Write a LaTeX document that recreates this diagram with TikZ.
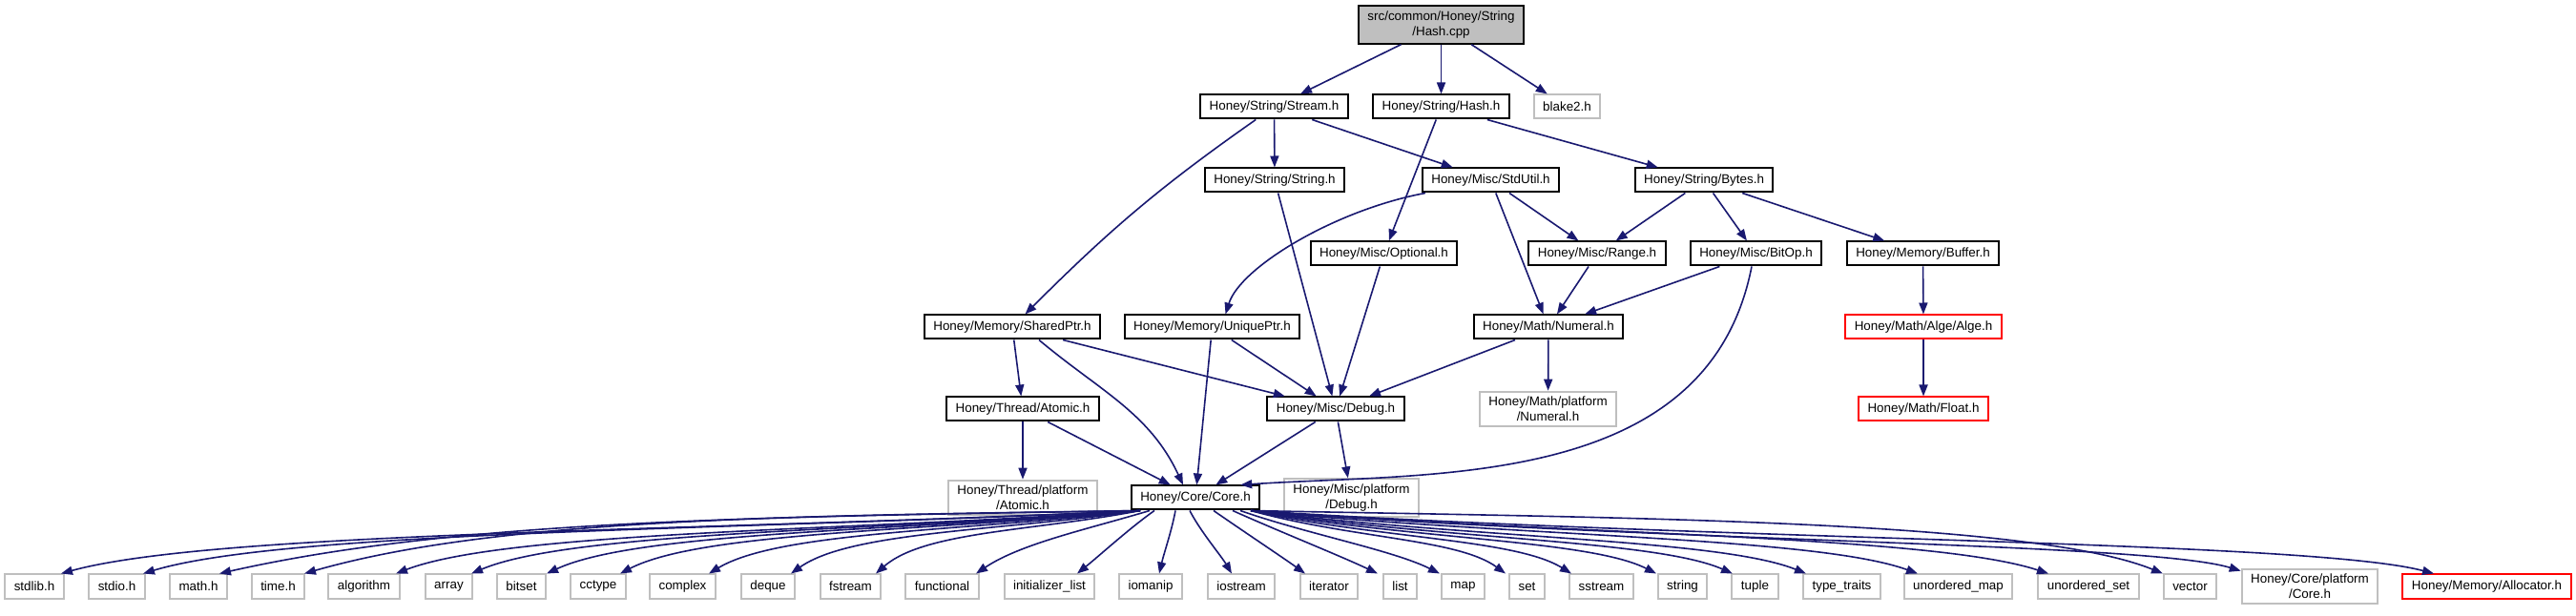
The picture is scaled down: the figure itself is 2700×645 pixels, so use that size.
\documentclass[tikz,border=0pt]{standalone}
\usepackage{fontspec}
\setmainfont{Liberation Sans}
\usetikzlibrary{arrows.meta,positioning}
\definecolor{edgeblue}{RGB}{25,25,112}
\definecolor{sysgray}{RGB}{191,191,191}
\definecolor{rootgray}{RGB}{191,191,191}
\definecolor{warnred}{RGB}{255,0,0}
\tikzset{
  inc/.style={rectangle,draw=black,line width=2pt,fill=white,text=black,align=center,
              inner xsep=9.5pt,inner ysep=5.5pt,minimum height=25pt,
              font=\fontsize{13.4}{15.8}\selectfont},
  sysinc/.style={inc,draw=sysgray},
  redinc/.style={inc,draw=warnred},
  rootinc/.style={inc,fill=rootgray},
  dep/.style={-{Triangle[length=12pt,width=9pt]},draw=edgeblue,line width=1.6pt},
}
\begin{document}
\begin{tikzpicture}[x=1pt,y=1pt]
  \useasboundingbox (0,0) rectangle (2700,645);
  % include rows, top to bottom
  \node[rootinc] (cpp) at (1510.5,619) {src/common/Honey/String\\/Hash.cpp};
  \node[inc] (stream) at (1335.5,533) {Honey/String/Stream.h};
  \node[inc] (hashh) at (1510.5,533) {Honey/String/Hash.h};
  \node[sysinc] (blake) at (1642.5,533) {blake2.h};
  \node[inc] (stringh) at (1336,456) {Honey/String/String.h};
  \node[inc] (stdutil) at (1562.5,456) {Honey/Misc/StdUtil.h};
  \node[inc] (bytes) at (1786,456) {Honey/String/Bytes.h};
  \node[inc] (optional) at (1450.5,379) {Honey/Misc/Optional.h};
  \node[inc] (range) at (1674,379) {Honey/Misc/Range.h};
  \node[inc] (bitop) at (1840.5,379) {Honey/Misc/BitOp.h};
  \node[inc] (buffer) at (2015.5,379) {Honey/Memory/Buffer.h};
  \node[inc] (sharedptr) at (1061,302) {Honey/Memory/SharedPtr.h};
  \node[inc] (uniqueptr) at (1270.5,302) {Honey/Memory/UniquePtr.h};
  \node[inc] (numeral) at (1623,302) {Honey/Math/Numeral.h};
  \node[redinc] (alge) at (2016,302) {Honey/Math/Alge/Alge.h};
  \node[inc] (atomic) at (1072,216) {Honey/Thread/Atomic.h};
  \node[inc] (debug) at (1400,216) {Honey/Misc/Debug.h};
  \node[sysinc] (numplat) at (1622.5,216) {Honey/Math/platform\\/Numeral.h};
  \node[redinc] (float) at (2016,216) {Honey/Math/Float.h};
  \node[sysinc] (atomplat) at (1072,123) {Honey/Thread/platform\\/Atomic.h};
  \node[inc] (core) at (1253,123) {Honey/Core/Core.h};
  \node[sysinc] (debugplat) at (1416.5,123) {Honey/Misc/platform\\/Debug.h};
  \foreach \n/\t/\x in {stdlib/stdlib.h/36, stdio/stdio.h/122.5, mathh/math.h/208,
      timeh/time.h/291.5, algorithm/algorithm/381.5, array/array/470.5, bitset/bitset/546.5,
      cctype/cctype/627, complex/complex/715.5, deque/deque/805, fstream/fstream/891.5,
      functional/functional/987.5, initlist/initializer\_list/1100, iomanip/iomanip/1206,
      iostream/iostream/1301, iterator/iterator/1393, list/list/1467.5, map/map/1533.5,
      set/set/1600.5, sstream/sstream/1678.5, string/string/1763.5, tuple/tuple/1839.5,
      typetraits/type\_traits/1930.5, umap/unordered\_map/2052.5, uset/unordered\_set/2189,
      vector/vector/2295.5}
    \node[sysinc] (\n) at (\x,30) {\t};
  \node[sysinc] (coreplat) at (2421,30) {Honey/Core/platform\\/Core.h};
  \node[redinc] (alloc) at (2606.5,30) {Honey/Memory/Allocator.h};

  \draw[dep] (cpp) -- (stream);
  \draw[dep] (cpp) -- (hashh);
  \draw[dep] (cpp) -- (blake);
  \draw[dep] (stream) to[out=-145,in=45] (sharedptr);
  \draw[dep] (stream) -- (stringh);
  \draw[dep] (stream) -- (stdutil);
  \draw[dep] (hashh) -- (optional);
  \draw[dep] (hashh) -- (bytes);
  \draw[dep] (stringh) -- (debug);
  \draw[dep] ([xshift=4pt]stdutil.south west) .. controls (1400,425) and (1300,365) .. ([xshift=14pt]uniqueptr.north);
  \draw[dep] (stdutil) -- (range);
  \draw[dep] (stdutil) -- (numeral);
  \draw[dep] (bytes) -- (range);
  \draw[dep] (bytes) -- (bitop);
  \draw[dep] (bytes) -- (buffer);
  \draw[dep] (optional) -- (debug);
  \draw[dep] (range) -- (numeral);
  \draw[dep] (bitop) -- (numeral);
  \draw[dep] ([xshift=-4.5pt]bitop.south) .. controls (1790,130) and (1500,150) .. ([xshift=-21pt]core.north east);
  \draw[dep] (buffer) -- (alge);
  \draw[dep] (alge) -- (float);
  \draw[dep] (sharedptr) -- (atomic);
  \draw[dep] ([xshift=28pt]sharedptr.south) to[out=-40,in=115] ([xshift=-13pt]core.north);
  \draw[dep] (sharedptr) -- (debug);
  \draw[dep] (uniqueptr) -- (core);
  \draw[dep] (uniqueptr) -- (debug);
  \draw[dep] (numeral) -- (debug);
  \draw[dep] (numeral) -- (numplat);
  \draw[dep] (atomic) -- (atomplat);
  \draw[dep] (atomic) -- (core);
  \draw[dep] (debug) -- (core);
  \draw[dep] (debug) -- (debugplat);

  % fan-out of Core.h: target / start shift / tip shift / controls
  \foreach \n/\s/\dx/\ax/\ay/\bx/\by in {
      stdlib/-58/28/742/88/226/88, stdio/-58/27.5/777/89/301/89,
      mathh/-58/22/800/103/480/100, timeh/-58/27.5/820/104/520/101,
      algorithm/-58/33.5/883/88/531/88, array/-58/23.5/915/88/600/88,
      bitset/-58/26.5/946/88/669/88, cctype/-58/23/977/88/736/88,
      complex/-58/27.5/1014/88/817/88, deque/-58/24/1049/88/892/88,
      fstream/-58/26.5/1084/88/969/88, functional/-48/35.5/1140/90/1070/75,
      initlist/-43/29/1185/92/1152/62, iomanip/-21/9/1228/88/1220/65,
      iostream/-6/-10/1258/88/1280/62, iterator/19/-25/1300/90/1345/60,
      list/39/-23.5/1340/88/1405/62, map/47/-24.5/1370/85/1460/68,
      set/58/-22.5/1418/80/1528/80, sstream/58/-31.5/1445/80/1588/80,
      string/58/-27.5/1481/79/1666/79, tuple/58/-23.5/1513/79/1735/79,
      typetraits/58/-37.5/1544/80/1802/80, umap/58/-42.5/1591/82/1904/82,
      uset/58/-42/1645/84/2023/84, vector/58/-28.5/1693/102/2128/100,
      alloc/58/-55.5/1800/78/2420/78}
    \draw[dep] ([xshift=\s pt]core.south) .. controls (\ax,\ay) and (\bx,\by) .. ([xshift=\dx pt]\n.north);
  \draw[dep] ([xshift=58pt]core.south) .. controls (1750,76) and (2250,76) .. ([yshift=-3pt]coreplat.north west);
\end{tikzpicture}
\end{document}
